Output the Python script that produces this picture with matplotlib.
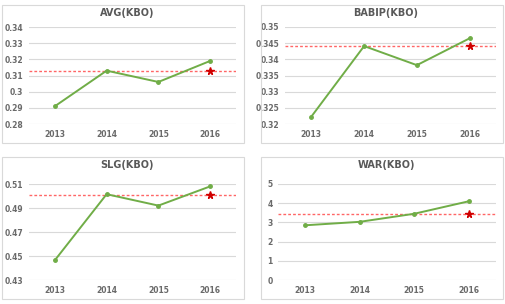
import matplotlib
matplotlib.use("Agg")
import matplotlib.pyplot as plt
from matplotlib.patches import Rectangle

years = ["2013", "2014", "2015", "2016"]
avg = [0.291, 0.313, 0.306, 0.319]
babip = [0.3223, 0.3441, 0.3382, 0.3465]
slg = [0.4465, 0.5015, 0.492, 0.508]
war = [2.85, 3.03, 3.45, 4.1]
avg_ref = 0.313
babip_ref = 0.344
slg_ref = 0.501
war_ref = 3.45

titles = ["AVG(KBO)", "BABIP(KBO)", "SLG(KBO)", "WAR(KBO)"]
series = [avg, babip, slg, war]
refs = [avg_ref, babip_ref, slg_ref, war_ref]
yticks = [
    [0.28, 0.29, 0.30, 0.31, 0.32, 0.33, 0.34],
    [0.32, 0.325, 0.33, 0.335, 0.34, 0.345, 0.35],
    [0.43, 0.45, 0.47, 0.49, 0.51],
    [0, 1, 2, 3, 4, 5],
]
ytick_labels = [
    ["0.28", "0.29", "0.3", "0.31", "0.32", "0.33", "0.34"],
    ["0.32", "0.325", "0.33", "0.335", "0.34", "0.345", "0.35"],
    ["0.43", "0.45", "0.47", "0.49", "0.51"],
    ["0", "1", "2", "3", "4", "5"],
]

W, H = 506, 304
fig = plt.figure(figsize=(W / 100, H / 100), dpi=100)
fig.patch.set_facecolor("white")

# boxes (pixel): x0, y0, x1, y1
boxes = [(2, 5, 244, 143), (261, 5, 503, 143), (2, 157, 244, 299), (261, 157, 503, 299)]
# plot areas (pixel): x0, ytop, x1, ybottom
areas = [(29, 27, 236, 124), (285, 27, 496, 124), (29, 184, 236, 280), (278, 184, 496, 280)]

green = "#70AD47"
txtc = "#6A6A6A"

for i in range(4):
    bx0, by0, bx1, by1 = boxes[i]
    fig.patches.append(Rectangle((bx0 / W, 1 - by1 / H), (bx1 - bx0) / W, (by1 - by0) / H,
                                 transform=fig.transFigure, fill=False,
                                 edgecolor="#D9D9D9", linewidth=0.8))
    x0, yt, x1, yb = areas[i]
    ax = fig.add_axes([x0 / W, 1 - yb / H, (x1 - x0) / W, (yb - yt) / H])
    ax.set_facecolor("none")
    xs = list(range(len(years)))
    ax.set_xlim(-0.5, len(years) - 0.5)
    ax.set_ylim(yticks[i][0], yticks[i][-1])
    ax.set_yticks(yticks[i])
    ax.set_yticklabels(ytick_labels[i])
    ax.set_xticks(xs)
    ax.set_xticklabels(years)
    ax.grid(axis="y", color="#D9D9D9", linewidth=0.8)
    ax.set_axisbelow(True)
    for s in ax.spines.values():
        s.set_visible(False)
    ax.tick_params(length=0, labelsize=5.5, colors=txtc, pad=4)
    for lab in ax.get_xticklabels() + ax.get_yticklabels():
        lab.set_fontweight("bold")
    ax.axhline(refs[i], color="#FF6666", linestyle=(0, (2, 1.5)), linewidth=1.0, zorder=2)
    ax.plot(xs, series[i], color=green, linewidth=1.4, marker="o", markersize=2.5, zorder=3,
            clip_on=False)
    ax.plot([xs[-1]], [refs[i]], marker="*", color="#D00000", markersize=5.5, linestyle="none",
            zorder=4, clip_on=False)
    fig.text(((bx0 + bx1) / 2 + 4) / W, 1 - (by0 + 8.5) / H, titles[i], ha="center", va="center",
             fontsize=7, color="#595959", fontweight="bold")

fig.savefig("out.png", dpi=100)
